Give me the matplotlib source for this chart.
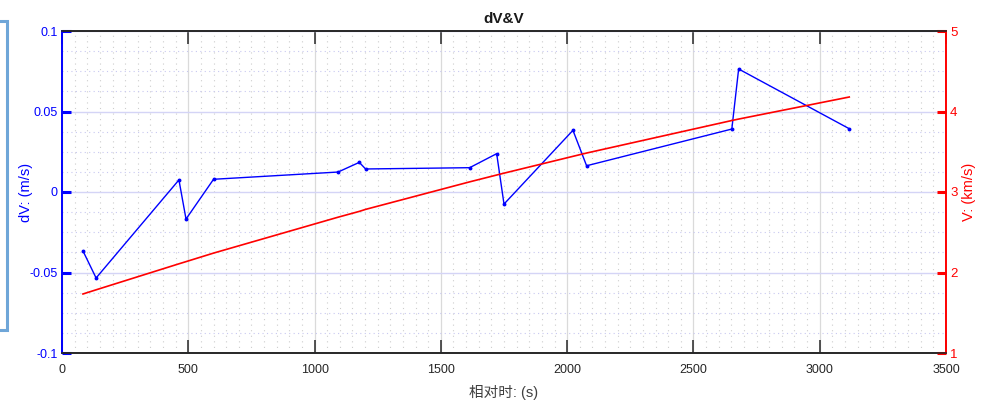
import matplotlib
matplotlib.use("Agg")
import matplotlib.pyplot as plt
from matplotlib.ticker import MultipleLocator
from matplotlib.patches import Rectangle

# ---- data ----
t = [83, 135, 463, 491, 600, 1093, 1177, 1202, 1614, 1721, 1750, 2023, 2077, 2652, 2679, 3117]
dv = [-0.0366, -0.0534, 0.0075, -0.0168, 0.0079, 0.0124, 0.0184, 0.0143,
      0.0151, 0.0238, -0.0075, 0.0383, 0.0163, 0.0391, 0.0764, 0.0393]
v = [1.733, 1.785, 2.108, 2.135, 2.241, 2.687, 2.759, 2.784,
     3.126, 3.211, 3.234, 3.443, 3.484, 3.888, 3.906, 4.180]
x_ticks = [0, 500, 1000, 1500, 2000, 2500, 3000, 3500]
left_ticks = [-0.1, -0.05, 0, 0.05, 0.1]
left_labels = ["-0.1", "-0.05", "0", "0.05", "0.1"]
right_ticks = [1, 2, 3, 4, 5]

FONT = ['Liberation Sans', 'DejaVu Sans']
plt.rcParams['font.family'] = FONT

fig = plt.figure(figsize=(9.84, 4.05), dpi=100)
ax = fig.add_axes([62/984, 1-353/405, (946-62)/984, (353-31)/405])
ax2 = ax.twinx()

ax.set_xlim(0, 3500)
ax.set_ylim(-0.1, 0.1)
ax2.set_ylim(1, 5)

# grids
ax.xaxis.set_minor_locator(MultipleLocator(50))
ax.yaxis.set_minor_locator(MultipleLocator(0.0125))
ax.grid(which='major', axis='x', color='#dadada', lw=0.9, ls='-')
ax.grid(which='major', axis='y', color='#d4d4f6', lw=1.0, ls='-')
ax.grid(which='minor', axis='x', color='#cdcdcd', lw=0.8, ls=(0, (1, 4)))
ax.grid(which='minor', axis='y', color='#c8c8f0', lw=0.8, ls=(0, (1, 3)))
ax.set_axisbelow(True)

# lines
ax.plot(t, dv, color='#0000ff', lw=1.0, marker='o', ms=1.8, zorder=3)
ax2.plot(t, v, color='#ff0000', lw=1.2, zorder=3)

# ticks
ax.set_xticks(x_ticks)
ax.set_xticklabels([str(x) for x in x_ticks])
ax.set_yticks(left_ticks)
ax.set_yticklabels(left_labels)
ax2.set_yticks(right_ticks)
ax2.set_yticklabels([str(r) for r in right_ticks])

ax.tick_params(axis='x', which='major', direction='in', top=True, bottom=True,
               length=9.5, width=1.1, color='#262626', labelcolor='#262626',
               labelsize=9, pad=8)
ax.tick_params(axis='y', which='major', direction='in', left=True, right=False,
               length=6.5, width=2.2, color='#0000ff', labelcolor='#0000ff',
               labelsize=9, pad=3)
ax.tick_params(which='minor', length=0)
ax2.tick_params(axis='y', which='major', direction='in', right=True, left=False,
                length=6.5, width=2.2, color='#ff0000', labelcolor='#ff0000',
                labelsize=9.5, pad=3)
ax2.tick_params(which='minor', length=0)

# spines
for a in (ax, ax2):
    a.spines['top'].set_color('#262626')
    a.spines['bottom'].set_color('#262626')
    a.spines['left'].set_color('#0000ff')
    a.spines['right'].set_color('#ff0000')
    for s in a.spines.values():
        s.set_linewidth(1.2)

# labels
ax.set_title('dV&V', fontsize=11, fontweight='bold', color='#1a1a1a', pad=6)
ax.set_ylabel('dV: (m/s)', color='#0000ff', fontsize=10.5)
ax.yaxis.set_label_coords((33-62)/884, 0.5)
ax2.set_ylabel('V: (km/s)', color='#ff0000', fontsize=10.5, rotation=90)
ax2.yaxis.set_label_coords((962-62)/884, 0.5)
ax.set_xlabel('相对时: (s)', color='#404040', fontsize=10.5,
              family=FONT + ['Noto Sans CJK SC'])
ax.xaxis.set_label_coords(0.5, -(385-353)/322)

# cut-off panel border at left edge
fig.patches.append(Rectangle((-20/984, 1-330/405), 27/984, (330-21)/405,
                             transform=fig.transFigure, fill=False,
                             edgecolor='#6fa6d8', lw=2.2))

fig.savefig('out.png', dpi=100)
